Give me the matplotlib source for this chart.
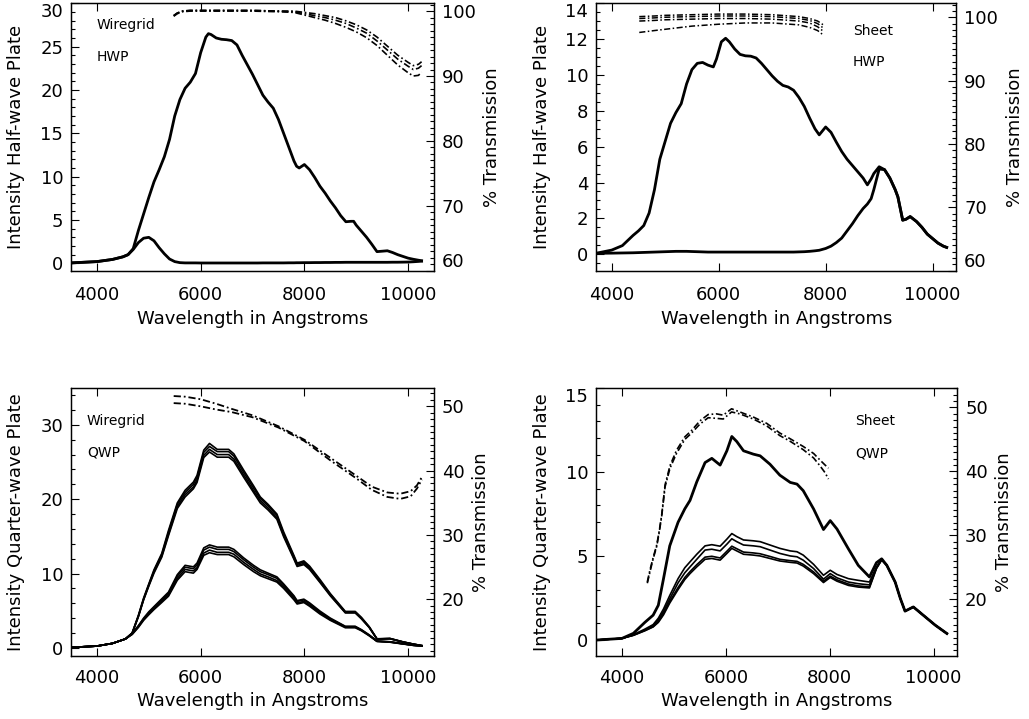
import matplotlib
matplotlib.use("Agg")
import matplotlib.pyplot as plt
from matplotlib.ticker import MultipleLocator, FixedLocator

plt.rcParams['font.family'] = ['DejaVu Sans']

# ---------------- Panel 1 : Wiregrid HWP ----------------
wl_p1 = [3500, 4000, 4300, 4500, 4600, 4700, 4800, 4900, 5000, 5100, 5200, 5300, 5400, 5500,
         5600, 5700, 5800, 5900, 6000, 6100, 6150, 6200, 6300, 6400, 6500, 6600, 6700, 6800,
         6900, 7000, 7100, 7200, 7300, 7400, 7500, 7600, 7700, 7800, 7850, 7900, 8000, 8100,
         8200, 8300, 8400, 8500, 8600, 8700, 8800, 8900, 8950, 9000, 9100, 9200, 9300, 9400,
         9500, 9600, 9700, 9800, 9900, 10000, 10100, 10200, 10260]
hwp_wire_max = [0.05, 0.2, 0.45, 0.75, 1.0, 1.7, 3.8, 5.7, 7.6, 9.4, 10.8, 12.3, 14.3, 17.0,
                18.9, 20.2, 20.9, 21.9, 24.3, 26.1, 26.5, 26.4, 26.0, 25.85, 25.8, 25.7, 25.2, 24.0,
                22.9, 21.8, 20.6, 19.4, 18.6, 17.9, 16.6, 15.0, 13.4, 11.8, 11.2, 11.0, 11.4, 10.8,
                9.9, 8.9, 8.1, 7.2, 6.4, 5.5, 4.8, 4.85, 4.85, 4.4, 3.7, 3.0, 2.2, 1.35,
                1.4, 1.45, 1.25, 1.0, 0.8, 0.6, 0.47, 0.36, 0.3]
hwp_wire_min = [0.05, 0.2, 0.45, 0.75, 1.0, 1.6, 2.4, 2.9, 3.0, 2.6, 1.8, 1.1, 0.5, 0.2,
                0.08, 0.05, 0.05, 0.05, 0.04, 0.04, 0.04, 0.04, 0.04, 0.04, 0.04, 0.04, 0.04, 0.04,
                0.04, 0.04, 0.04, 0.05, 0.05, 0.05, 0.05, 0.05, 0.06, 0.06, 0.07, 0.07, 0.08, 0.08,
                0.09, 0.09, 0.1, 0.1, 0.11, 0.11, 0.12, 0.12, 0.12, 0.12, 0.12, 0.12, 0.12, 0.12,
                0.12, 0.12, 0.13, 0.13, 0.14, 0.15, 0.18, 0.22, 0.25]
wl_t1 = [5480, 5550, 5650, 5800, 6000, 6500, 7000, 7500, 7800, 8000, 8200, 8400, 8600, 8800,
         9000, 9200, 9400, 9600, 9800, 10000, 10100, 10200, 10260]
trans_wire_hwp_a = [99.3, 99.7, 100.0, 100.1, 100.1, 100.1, 100.1, 100.0, 100.0, 99.8, 99.6, 99.3,
                    99.0, 98.5, 97.9, 97.1, 96.0, 94.6, 93.2, 92.1, 91.6, 91.8, 92.2]
trans_wire_hwp_b = [99.3, 99.7, 100.0, 100.1, 100.1, 100.1, 100.1, 100.0, 99.9, 99.6, 99.3, 99.0,
                    98.6, 98.1, 97.4, 96.6, 95.4, 94.0, 92.6, 91.5, 91.0, 91.2, 91.6]
trans_wire_hwp_c = [99.2, 99.6, 99.9, 100.0, 100.0, 100.0, 100.0, 99.9, 99.8, 99.4, 99.0, 98.6,
                    98.1, 97.5, 96.8, 95.9, 94.7, 93.2, 91.7, 90.5, 90.0, 90.1, 90.6]

# ---------------- Panel 2 : Sheet HWP ----------------
wl_p2 = [3705, 4000, 4200, 4400, 4500, 4600, 4700, 4800, 4900, 5000, 5100, 5200, 5300, 5400,
         5500, 5600, 5700, 5800, 5900, 5960, 6050, 6130, 6200, 6300, 6400, 6500, 6600, 6700,
         6800, 6900, 7000, 7100, 7200, 7300, 7400, 7500, 7600, 7700, 7800, 7880, 8000, 8100,
         8200, 8300, 8400, 8500, 8600, 8700, 8780, 8850, 8900, 9000, 9100, 9200, 9300, 9350,
         9440, 9500, 9580, 9700, 9800, 9900, 10000, 10100, 10200, 10262]
hwp_sheet_max = [0.05, 0.23, 0.48, 1.05, 1.3, 1.6, 2.3, 3.6, 5.3, 6.3, 7.3, 7.9, 8.4, 9.5,
                 10.3, 10.65, 10.7, 10.55, 10.45, 10.9, 11.85, 12.05, 11.85, 11.45, 11.15, 11.07, 11.05, 10.95,
                 10.65, 10.3, 9.95, 9.65, 9.42, 9.33, 9.15, 8.75, 8.25, 7.6, 7.0, 6.66, 7.1, 6.8,
                 6.25, 5.73, 5.3, 4.95, 4.6, 4.25, 3.87, 4.2, 4.5, 4.88, 4.72, 4.25, 3.6, 3.2,
                 1.9, 1.95, 2.1, 1.82, 1.5, 1.12, 0.87, 0.62, 0.45, 0.38]
hwp_sheet_min = [0.05, 0.06, 0.07, 0.08, 0.09, 0.1, 0.11, 0.12, 0.13, 0.14, 0.15, 0.16, 0.16, 0.16,
                 0.15, 0.14, 0.13, 0.12, 0.12, 0.12, 0.12, 0.12, 0.12, 0.12, 0.12, 0.12, 0.12, 0.12,
                 0.12, 0.12, 0.12, 0.12, 0.12, 0.12, 0.12, 0.13, 0.14, 0.16, 0.19, 0.22, 0.32, 0.45,
                 0.65, 0.9, 1.3, 1.7, 2.15, 2.55, 2.8, 3.1, 3.6, 4.75, 4.72, 4.25, 3.6, 3.2,
                 1.9, 1.95, 2.1, 1.82, 1.5, 1.12, 0.87, 0.62, 0.45, 0.38]
wl_t2 = [4516, 4800, 5000, 5500, 6000, 6500, 7000, 7500, 7700, 7850, 7955]
trans_sheet_hwp_a = [100.1, 100.2, 100.3, 100.4, 100.5, 100.5, 100.4, 100.1, 99.8, 99.4, 98.8]
trans_sheet_hwp_b = [99.8, 99.9, 100.0, 100.1, 100.2, 100.2, 100.1, 99.8, 99.5, 99.0, 98.3]
trans_sheet_hwp_c = [99.4, 99.5, 99.6, 99.7, 99.8, 99.8, 99.7, 99.4, 99.1, 98.5, 97.8]
trans_sheet_hwp_d = [97.6, 97.9, 98.1, 98.6, 98.9, 99.1, 99.1, 98.8, 98.4, 97.9, 97.2]

# ---------------- Panel 3 : Wiregrid QWP ----------------
wl_p3 = [3500, 4000, 4300, 4550, 4680, 4800, 4900, 5000, 5100, 5250, 5380, 5550, 5700, 5860,
         5930, 6060, 6170, 6320, 6540, 6640, 6830, 7020, 7150, 7300, 7470, 7600, 7800, 7860,
         7990, 8100, 8300, 8500, 8790, 8980, 9100, 9250, 9400, 9650, 9900, 10100, 10266]
qwp_wire_hi_1 = [0.06, 0.24, 0.6, 1.2, 2.0, 4.4, 6.7, 8.6, 10.5, 12.7, 15.8, 19.5, 21.2, 22.3,
                 23.2, 26.6, 27.5, 26.7, 26.7, 26.1, 23.9, 21.8, 20.3, 19.3, 18.0, 15.6, 12.4, 11.4,
                 11.7, 11.0, 9.2, 7.3, 4.9, 4.9, 4.1, 2.85, 1.22, 1.27, 0.81, 0.51, 0.3]
qwp_wire_hi_2 = [0.06, 0.24, 0.6, 1.2, 2.0, 4.3, 6.6, 8.5, 10.35, 12.55, 15.55, 19.3, 20.9, 22.0,
                 22.9, 26.3, 27.1, 26.4, 26.4, 25.8, 23.6, 21.5, 20.1, 19.1, 17.8, 15.35, 12.25, 11.25,
                 11.55, 10.85, 9.05, 7.2, 4.8, 4.8, 4.0, 2.8, 1.2, 1.25, 0.8, 0.5, 0.3]
qwp_wire_hi_3 = [0.06, 0.24, 0.6, 1.2, 2.0, 4.25, 6.5, 8.4, 10.2, 12.35, 15.3, 19.0, 20.6, 21.65,
                 22.55, 25.9, 26.7, 26.0, 26.0, 25.4, 23.25, 21.15, 19.8, 18.8, 17.5, 15.15, 12.05, 11.1,
                 11.35, 10.7, 8.9, 7.1, 4.75, 4.75, 3.95, 2.77, 1.19, 1.24, 0.79, 0.5, 0.3]
qwp_wire_hi_4 = [0.06, 0.24, 0.6, 1.2, 1.95, 4.2, 6.45, 8.3, 10.05, 12.2, 15.1, 18.75, 20.3, 21.4,
                 22.25, 25.6, 26.35, 25.65, 25.65, 25.1, 22.95, 20.9, 19.5, 18.55, 17.3, 14.95, 11.9, 10.95,
                 11.2, 10.55, 8.8, 7.0, 4.7, 4.7, 3.9, 2.73, 1.17, 1.22, 0.78, 0.49, 0.29]
qwp_wire_lo_1 = [0.06, 0.24, 0.6, 1.2, 1.95, 3.0, 4.0, 4.85, 5.55, 6.6, 7.5, 9.85, 11.1, 10.9,
                 11.4, 13.45, 13.85, 13.55, 13.55, 13.25, 12.1, 11.1, 10.5, 10.05, 9.55, 8.6, 7.0, 6.35,
                 6.55, 6.05, 4.95, 4.0, 2.9, 2.9, 2.45, 1.75, 0.92, 0.82, 0.56, 0.36, 0.26]
qwp_wire_lo_2 = [0.06, 0.24, 0.6, 1.2, 1.9, 2.9, 3.9, 4.7, 5.45, 6.45, 7.35, 9.65, 10.85, 10.65,
                 11.15, 13.15, 13.55, 13.25, 13.25, 12.95, 11.85, 10.85, 10.25, 9.85, 9.35, 8.45, 6.85, 6.25,
                 6.45, 5.95, 4.8, 3.9, 2.85, 2.85, 2.4, 1.7, 0.9, 0.8, 0.55, 0.35, 0.25]
qwp_wire_lo_3 = [0.06, 0.24, 0.6, 1.2, 1.85, 2.85, 3.8, 4.6, 5.25, 6.25, 7.1, 9.35, 10.55, 10.35,
                 10.8, 12.75, 13.15, 12.85, 12.85, 12.6, 11.5, 10.55, 9.95, 9.55, 9.05, 8.2, 6.65, 6.05,
                 6.25, 5.75, 4.7, 3.8, 2.8, 2.8, 2.35, 1.66, 0.88, 0.78, 0.54, 0.34, 0.24]
qwp_wire_lo_4 = [0.06, 0.24, 0.6, 1.2, 1.8, 2.75, 3.7, 4.45, 5.15, 6.1, 6.95, 9.1, 10.25, 10.05,
                 10.55, 12.45, 12.8, 12.55, 12.55, 12.25, 11.2, 10.25, 9.7, 9.3, 8.85, 8.0, 6.45, 5.9,
                 6.1, 5.6, 4.55, 3.7, 2.7, 2.7, 2.3, 1.62, 0.86, 0.76, 0.52, 0.33, 0.24]
wl_t3 = [5480, 5700, 6000, 6300, 6600, 7000, 7500, 8000, 8500, 9000, 9300, 9600, 9850, 10050,
         10170, 10266]
trans_wire_qwp_a = [51.6, 51.5, 51.1, 50.4, 49.6, 48.6, 46.9, 44.8, 42.0, 39.2, 37.5, 36.6, 36.4, 36.8,
                    37.7, 39.0]
trans_wire_qwp_b = [50.5, 50.4, 50.0, 49.5, 49.1, 48.3, 46.7, 44.6, 41.6, 38.8, 37.0, 35.9, 35.6, 36.0,
                    37.2, 38.6]

# ---------------- Panel 4 : Sheet QWP ----------------
wl_p4 = [3495, 4000, 4220, 4440, 4600, 4700, 4800, 4920, 5080, 5210, 5310, 5440, 5600, 5730,
         5890, 6020, 6115, 6210, 6340, 6530, 6660, 6850, 7040, 7240, 7370, 7490, 7690, 7880,
         8010, 8140, 8360, 8550, 8765, 8900, 9000, 9100, 9260, 9360, 9450, 9610, 9800, 10030, 10256]
qwp_sheet_max = [0.0, 0.1, 0.4, 1.05, 1.48, 2.07, 3.65, 5.6, 7.0, 7.8, 8.3, 9.4, 10.55, 10.8,
                 10.4, 11.25, 12.1, 11.8, 11.25, 11.05, 10.95, 10.45, 9.8, 9.37, 9.27, 8.88, 7.79, 6.57,
                 7.1, 6.6, 5.42, 4.44, 3.75, 4.6, 4.83, 4.44, 3.45, 2.47, 1.72, 1.97, 1.48, 0.89, 0.39]
qwp_sheet_lo_1 = [0.0, 0.1, 0.32, 0.65, 0.92, 1.3, 1.85, 2.65, 3.65, 4.3, 4.65, 5.1, 5.6, 5.67,
                  5.58, 6.0, 6.33, 6.15, 5.95, 5.9, 5.85, 5.65, 5.45, 5.3, 5.25, 5.05, 4.5, 3.85,
                  4.15, 3.9, 3.65, 3.55, 3.45, 4.35, 4.8, 4.44, 3.45, 2.47, 1.72, 1.97, 1.48, 0.89, 0.39]
qwp_sheet_lo_2 = [0.0, 0.1, 0.3, 0.6, 0.85, 1.2, 1.7, 2.45, 3.4, 4.0, 4.35, 4.8, 5.35, 5.4,
                  5.3, 5.7, 6.02, 5.85, 5.65, 5.6, 5.55, 5.35, 5.15, 5.0, 4.95, 4.75, 4.25, 3.62,
                  3.95, 3.7, 3.45, 3.35, 3.28, 4.3, 4.78, 4.44, 3.45, 2.47, 1.72, 1.97, 1.48, 0.89, 0.39]
qwp_sheet_lo_3 = [0.0, 0.1, 0.29, 0.57, 0.8, 1.1, 1.57, 2.3, 3.12, 3.72, 4.07, 4.48, 4.93, 4.98,
                  4.88, 5.28, 5.58, 5.43, 5.23, 5.18, 5.13, 4.97, 4.8, 4.72, 4.68, 4.5, 4.05, 3.5,
                  3.8, 3.58, 3.33, 3.22, 3.16, 4.27, 4.77, 4.44, 3.45, 2.47, 1.72, 1.97, 1.48, 0.89, 0.39]
qwp_sheet_lo_4 = [0.0, 0.1, 0.28, 0.55, 0.78, 1.05, 1.5, 2.2, 3.0, 3.6, 3.95, 4.35, 4.8, 4.85,
                  4.75, 5.15, 5.45, 5.3, 5.1, 5.05, 5.0, 4.85, 4.7, 4.62, 4.58, 4.4, 3.95, 3.42,
                  3.72, 3.5, 3.25, 3.15, 3.1, 4.25, 4.76, 4.44, 3.45, 2.47, 1.72, 1.97, 1.48, 0.89, 0.39]
wl_t4 = [4488, 4540, 4600, 4670, 4720, 4765, 4830, 4925, 5050, 5210, 5340, 5500, 5660, 5820,
         5950, 6110, 6270, 6530, 6790, 7040, 7240, 7490, 7690, 7810, 7910, 7976]
trans_sheet_qwp_a = [22.7, 24.6, 26.5, 28.5, 30.8, 33.2, 37.9, 40.9, 43.3, 45.4, 46.4, 47.9, 48.9, 49.0,
                     48.8, 49.8, 49.3, 48.5, 47.5, 46.0, 45.1, 43.9, 42.8, 41.8, 41.0, 40.5]
trans_sheet_qwp_b = [22.5, 24.3, 26.3, 28.3, 30.6, 33.0, 37.6, 40.5, 42.8, 45.0, 46.0, 47.4, 48.4, 48.3,
                     48.2, 49.3, 49.0, 48.2, 47.1, 45.6, 44.7, 43.4, 42.1, 40.9, 39.8, 38.8]

XLABEL = "Wavelength in Angstroms"
RLABEL = "% Transmission"
FS = 13
DASH = (4, 1.6, 1, 1.6)

fig = plt.figure(figsize=(10.29, 7.19), dpi=100)


def style(ax, tw, xlim, ylim, rlim, yticks, yminor, rticks, xlab_y, ylab_x, rlab_x, ylabel, xpad):
    ax.set_xlim(*xlim)
    ax.set_ylim(*ylim)
    tw.set_ylim(*rlim)
    ax.set_xticks([4000, 6000, 8000, 10000])
    ax.set_yticks(yticks)
    ax.yaxis.set_minor_locator(MultipleLocator(yminor))
    tw.set_yticks(rticks)
    tw.yaxis.set_minor_locator(MultipleLocator(1))
    ax.tick_params(axis='x', which='major', direction='in', top=True, bottom=True,
                   length=6, width=0.8, labelsize=FS, pad=xpad)
    ax.tick_params(axis='y', which='major', direction='in', left=True, right=False,
                   length=6, width=0.8, labelsize=FS, pad=5.5)
    ax.tick_params(axis='y', which='minor', direction='in', left=True, right=False,
                   length=3, width=0.8)
    tw.tick_params(axis='y', which='major', direction='in', right=True, left=False,
                   length=6, width=0.8, labelsize=FS, pad=5.5)
    tw.tick_params(axis='y', which='minor', direction='in', right=True, left=False,
                   length=3, width=0.8)
    for a in (ax, tw):
        for s in a.spines.values():
            s.set_linewidth(0.9)
    ax.set_xlabel(XLABEL, fontsize=FS, va='center')
    ax.xaxis.set_label_coords(0.5, xlab_y)
    ax.set_ylabel(ylabel, fontsize=FS, va='center')
    ax.yaxis.set_label_coords(ylab_x, 0.5)
    tw.set_ylabel(RLABEL, fontsize=FS, va='center')
    tw.yaxis.set_label_coords(rlab_x, 0.5)


# ---- Panel 1
ax1 = fig.add_axes([0.0690, 0.6235, 0.3528, 0.3719])
tw1 = ax1.twinx()
ax1.plot(wl_p1, hwp_wire_max, color='black', lw=2.0)
ax1.plot(wl_p1, hwp_wire_min, color='black', lw=2.0)
for t in (trans_wire_hwp_a, trans_wire_hwp_b, trans_wire_hwp_c):
    tw1.plot(wl_t1, t, color='black', lw=1.2, dashes=DASH)
style(ax1, tw1, (3500, 10500), (-0.85, 30), (60, 101.2), [0, 5, 10, 15, 20, 25, 30], 1,
      [60, 70, 80, 90, 100], -0.180, -0.152, 1.159, "Intensity Half-wave Plate", 11)
ax1.text(0.071, 0.919, "Wiregrid", transform=ax1.transAxes, fontsize=10, va='center', ha='left')
ax1.text(0.071, 0.798, "HWP", transform=ax1.transAxes, fontsize=10, va='center', ha='left')

# ---- Panel 2
ax2 = fig.add_axes([0.5792, 0.6235, 0.3503, 0.3719])
tw2 = ax2.twinx()
ax2.plot(wl_p2, hwp_sheet_max, color='black', lw=2.0)
ax2.plot(wl_p2, hwp_sheet_min, color='black', lw=2.0)
for t in (trans_sheet_hwp_a, trans_sheet_hwp_b, trans_sheet_hwp_c, trans_sheet_hwp_d):
    tw2.plot(wl_t2, t, color='black', lw=1.1, dashes=DASH)
style(ax2, tw2, (3707, 10445), (-0.92, 14.0), (60, 102.2), [0, 2, 4, 6, 8, 10, 12, 14], 0.5,
      [60, 70, 80, 90, 100], -0.180, -0.150, 1.162, "Intensity Half-wave Plate", 11)
ax2.text(0.712, 0.898, "Sheet", transform=ax2.transAxes, fontsize=10, va='center', ha='left')
ax2.text(0.712, 0.782, "HWP", transform=ax2.transAxes, fontsize=10, va='center', ha='left')

# ---- Panel 3
ax3 = fig.add_axes([0.0690, 0.0880, 0.3528, 0.3728])
tw3 = ax3.twinx()
for c in (qwp_wire_hi_1, qwp_wire_hi_2, qwp_wire_hi_3, qwp_wire_hi_4,
          qwp_wire_lo_1, qwp_wire_lo_2, qwp_wire_lo_3, qwp_wire_lo_4):
    ax3.plot(wl_p3, c, color='black', lw=1.2)
for t in (trans_wire_qwp_a, trans_wire_qwp_b):
    tw3.plot(wl_t3, t, color='black', lw=1.3, dashes=DASH)
style(ax3, tw3, (3500, 10500), (-1.06, 35), (11.2, 52.9), [0, 10, 20, 30], 2,
      [20, 30, 40, 50], -0.168, -0.151, 1.128, "Intensity Quarter-wave Plate", 9.5)
ax3.text(0.044, 0.876, "Wiregrid", transform=ax3.transAxes, fontsize=10, va='center', ha='left')
ax3.text(0.044, 0.757, "QWP", transform=ax3.transAxes, fontsize=10, va='center', ha='left')

# ---- Panel 4
ax4 = fig.add_axes([0.5792, 0.0880, 0.3513, 0.3728])
tw4 = ax4.twinx()
ax4.plot(wl_p4, qwp_sheet_max, color='black', lw=2.0)
for c in (qwp_sheet_lo_1, qwp_sheet_lo_2, qwp_sheet_lo_3, qwp_sheet_lo_4):
    ax4.plot(wl_p4, c, color='black', lw=1.2)
for t in (trans_sheet_qwp_a, trans_sheet_qwp_b):
    tw4.plot(wl_t4, t, color='black', lw=1.2, dashes=DASH)
style(ax4, tw4, (3500, 10460), (-0.93, 15), (11.15, 53.1), [0, 5, 10, 15], 1,
      [20, 30, 40, 50], -0.168, -0.150, 1.128, "Intensity Quarter-wave Plate", 9.5)
ax4.text(0.717, 0.876, "Sheet", transform=ax4.transAxes, fontsize=10, va='center', ha='left')
ax4.text(0.717, 0.755, "QWP", transform=ax4.transAxes, fontsize=10, va='center', ha='left')

# edge labels pushed inside the frame, as in the reference
for a in (ax1, ax2, ax4):
    a.yaxis.get_major_ticks()[-1].label1.set_va('top')
for a in (tw1, tw2):
    a.yaxis.get_major_ticks()[0].label2.set_va('bottom')

fig.savefig("out.png", dpi=100)
